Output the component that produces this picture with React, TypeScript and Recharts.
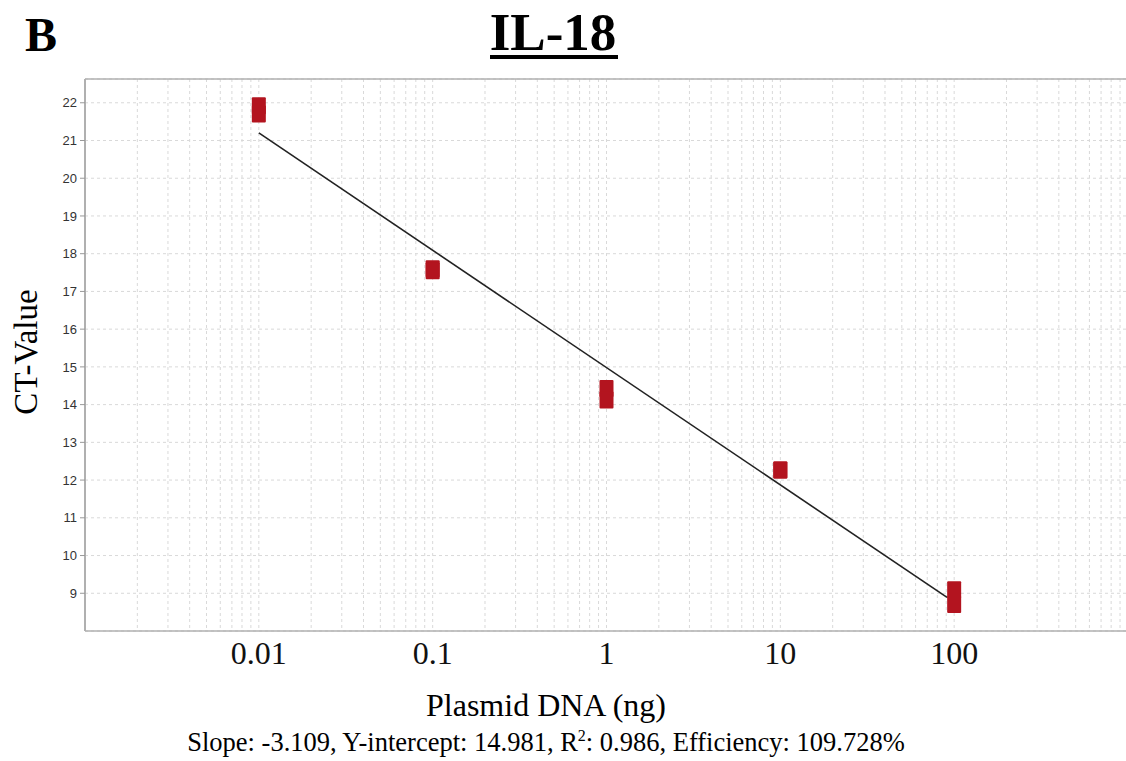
import React from "react";
import {
  ComposedChart,
  Scatter,
  Line,
  XAxis,
  YAxis,
  CartesianGrid,
  ReferenceLine,
} from "recharts";

// plasmid DNA amounts (ng) and replicate CT values
const concentrations = [0.01, 0.1, 1, 10, 100];
const ctRep1 = [21.92, 17.6, 14.43, 12.27, 9.09];
const ctRep2 = [21.7, 17.55, 14.12, 12.27, 8.7];

// regression line end points
const fitX = [0.01, 91];
const fitY = [21.2, 8.89];

// axis ticks
const decades = [0.001, 0.01, 0.1, 1, 10, 100];
const xLabelled = [0.01, 0.1, 1, 10, 100];
const yTicks = [9, 10, 11, 12, 13, 14, 15, 16, 17, 18, 19, 20, 21, 22];

const xTicks: number[] = [];
decades.forEach((d) => {
  for (let m = 1; m <= 9; m++) xTicks.push(d * m);
});
xTicks.push(1000);

const points = concentrations.flatMap((c, i) => [
  { x: c, y: ctRep1[i] },
  { x: c, y: ctRep2[i] },
]);
const fit = fitX.map((x, i) => ({ x, y: fitY[i] }));

const serif = "'Liberation Serif', 'Times New Roman', serif";
const sans = "'Liberation Sans', Arial, sans-serif";

const Marker = (props: any) => {
  const { cx, cy } = props;
  return (
    <rect
      x={cx - 7}
      y={cy - 8.5}
      width={14}
      height={17}
      rx={1}
      fill="#b3141f"
    />
  );
};

export default function App() {
  return (
    <div
      style={{
        position: "absolute",
        left: 0,
        top: 0,
        width: 1126,
        height: 761,
        overflow: "hidden",
        background: "#fff",
      }}
    >
      <ComposedChart
        width={1130}
        height={761}
        margin={{ top: 79, right: 2, left: 0, bottom: 90 }}
      >
        <CartesianGrid stroke="#d9d9d9" strokeDasharray="3 3" />
        <XAxis
          dataKey="x"
          type="number"
          scale="log"
          domain={[0.001, 1000]}
          ticks={xTicks}
          allowDataOverflow
          interval={0}
          height={40}
          tickLine={false}
          tickSize={6}
          tickMargin={4}
          axisLine={{ stroke: "#b0b0b0", strokeWidth: 1.5 }}
          tickFormatter={(v: number) =>
            xLabelled.some((l) => Math.abs(l - v) < l * 1e-6) ? String(v) : ""
          }
          tick={{ fontFamily: serif, fontSize: 32, fill: "#111" }}
        />
        <YAxis
          dataKey="y"
          type="number"
          domain={[8, 22.63]}
          ticks={yTicks}
          interval={0}
          width={85}
          tickSize={5}
          tickMargin={3}
          tickLine={{ stroke: "#999" }}
          axisLine={{ stroke: "#b0b0b0", strokeWidth: 2 }}
          tick={{ fontFamily: sans, fontSize: 13, fill: "#333" }}
        />
        <ReferenceLine y={22.63} stroke="#b0b0b0" strokeWidth={1.5} />
        <Line
          data={fit}
          dataKey="y"
          stroke="#222"
          strokeWidth={1.6}
          dot={false}
          activeDot={false}
          isAnimationActive={false}
        />
        <Scatter data={points} shape={Marker} isAnimationActive={false} />
      </ComposedChart>

      <svg
        width={1126}
        height={761}
        style={{ position: "absolute", left: 0, top: 0, pointerEvents: "none" }}
      >
        <text x={25} y={51} fontFamily={serif} fontWeight="bold" fontSize={48} fill="#000">
          B
        </text>
        <text
          x={553}
          y={50}
          textAnchor="middle"
          fontFamily={serif}
          fontWeight="bold"
          fontSize={53}
          fill="#000"
        >
          IL-18
        </text>
        <rect x={490} y={55} width={128} height={4} fill="#000" />
        <text
          x={37}
          y={352}
          textAnchor="middle"
          transform="rotate(-90 37 352)"
          fontFamily={serif}
          fontSize={33}
          fill="#000"
        >
          CT-Value
        </text>
        <text x={546} y={716} textAnchor="middle" fontFamily={serif} fontSize={32} fill="#000">
          Plasmid DNA (ng)
        </text>
        <text x={546} y={751} textAnchor="middle" fontFamily={serif} fontSize={26.5} fill="#000">
          Slope: -3.109, Y-intercept: 14.981, R
          <tspan dy={-10} fontSize={16}>2</tspan>
          <tspan dy={10}>: 0.986, Efficiency: 109.728%</tspan>
        </text>
      </svg>
    </div>
  );
}
